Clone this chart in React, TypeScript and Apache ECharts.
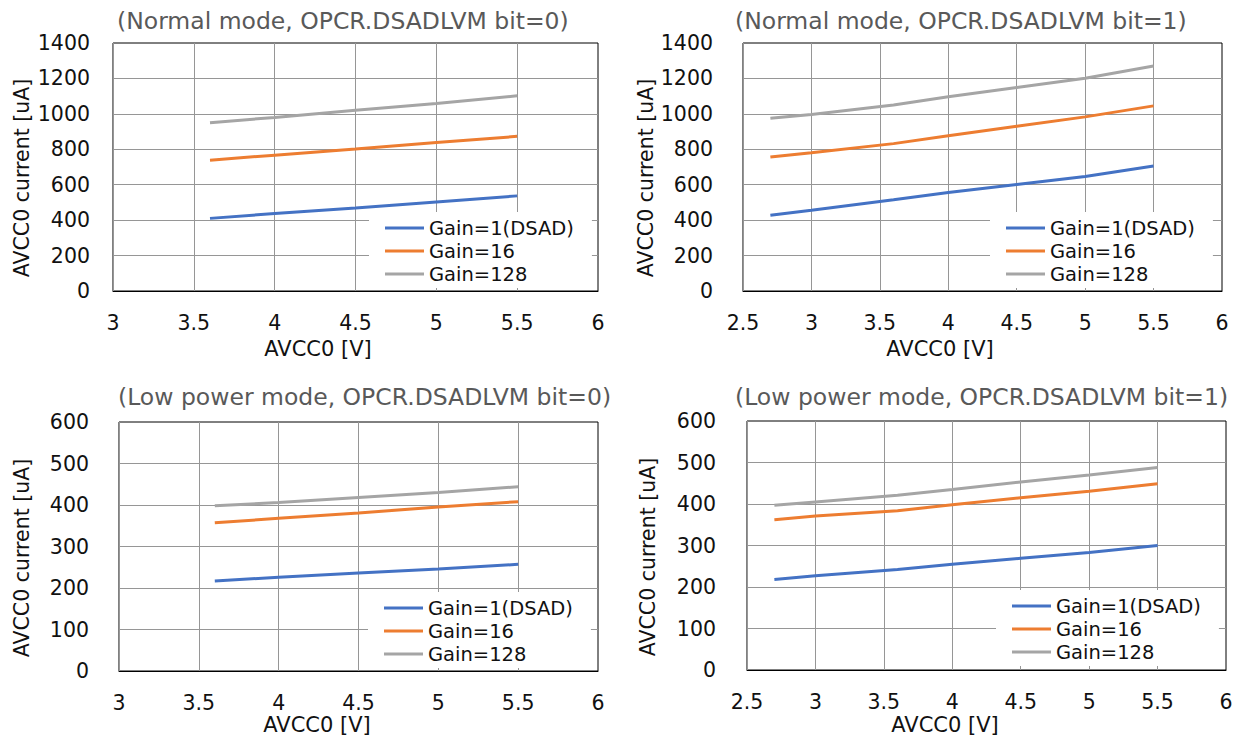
import React, { useEffect, useRef } from "react";
import * as echarts from "echarts";

// ---- data ----
const seriesNames = ["Gain=1(DSAD)", "Gain=16", "Gain=128"];
const lineColors = ["#4472C4", "#ED7D31", "#A5A5A5"];

const voltsA = [3.6, 4.0, 4.5, 5.0, 5.5];
const voltsB = [2.7, 3.0, 3.6, 4.0, 4.5, 5.0, 5.5];

// Normal mode, bit=0 (x = voltsA)
const normalBit0Gain1 = [410, 437, 469, 503, 537];
const normalBit0Gain16 = [738, 767, 802, 838, 873];
const normalBit0Gain128 = [950, 980, 1021, 1058, 1102];

// Normal mode, bit=1 (x = voltsB)
const normalBit1Gain1 = [427, 456, 515, 556, 601, 646, 706];
const normalBit1Gain16 = [756, 781, 832, 876, 930, 983, 1045];
const normalBit1Gain128 = [975, 997, 1050, 1096, 1149, 1201, 1270];

// Low power mode, bit=0 (x = voltsA)
const lowBit0Gain1 = [217, 226, 236, 246, 257];
const lowBit0Gain16 = [357, 368, 381, 395, 408];
const lowBit0Gain128 = [398, 406, 418, 430, 444];

// Low power mode, bit=1 (x = voltsB)
const lowBit1Gain1 = [218, 227, 242, 255, 269, 283, 300];
const lowBit1Gain16 = [362, 371, 384, 398, 415, 431, 449];
const lowBit1Gain128 = [397, 405, 421, 435, 453, 470, 488];

const titles = [
  "(Normal mode, OPCR.DSADLVM bit=0)",
  "(Normal mode, OPCR.DSADLVM bit=1)",
  "(Low power mode, OPCR.DSADLVM bit=0)",
  "(Low power mode, OPCR.DSADLVM bit=1)",
];
const xAxisName = "AVCC0 [V]";
const yAxisName = "AVCC0 current [uA]";

const FONT = "'DejaVu Sans', Verdana, sans-serif";

const panels = [
  {
    volts: voltsA, values: [normalBit0Gain1, normalBit0Gain16, normalBit0Gain128],
    xMin: 3, xMax: 6, yMax: 1400, yInt: 200,
    grid: { left: 113, top: 43, width: 485, height: 248 }, yLabelMargin: 23,
    title: { x: 117, y: 21 }, xName: { x: 318, y: 349 }, yName: { x: 22, y: 178 },
    legend: { left: 369, top: 212 },
  },
  {
    volts: voltsB, values: [normalBit1Gain1, normalBit1Gain16, normalBit1Gain128],
    xMin: 2.5, xMax: 6, yMax: 1400, yInt: 200,
    grid: { left: 743, top: 43, width: 479, height: 248 }, yLabelMargin: 30,
    title: { x: 735, y: 21 }, xName: { x: 940, y: 349 }, yName: { x: 646, y: 178 },
    legend: { left: 990, top: 212 },
  },
  {
    volts: voltsA, values: [lowBit0Gain1, lowBit0Gain16, lowBit0Gain128],
    xMin: 3, xMax: 6, yMax: 600, yInt: 100,
    grid: { left: 119, top: 422, width: 479, height: 249 }, yLabelMargin: 30,
    title: { x: 118, y: 397 }, xName: { x: 317, y: 725 }, yName: { x: 22, y: 558 },
    legend: { left: 368, top: 592 },
  },
  {
    volts: voltsB, values: [lowBit1Gain1, lowBit1Gain16, lowBit1Gain128],
    xMin: 2.5, xMax: 6, yMax: 600, yInt: 100,
    grid: { left: 747, top: 421, width: 479, height: 249 }, yLabelMargin: 31,
    title: { x: 735, y: 397 }, xName: { x: 945, y: 725 }, yName: { x: 648, y: 557 },
    legend: { left: 996, top: 590 },
  },
];

function buildOption() {
  const grid: any[] = [];
  const xAxis: any[] = [];
  const yAxis: any[] = [];
  const series: any[] = [];
  const legend: any[] = [];
  const graphic: any[] = [];

  panels.forEach((p, i) => {
    grid.push({
      ...p.grid,
      containLabel: false,
      show: true,
      borderColor: "#000",
      borderWidth: 1,
      backgroundColor: "transparent",
    });
    xAxis.push({
      type: "value",
      gridIndex: i,
      min: p.xMin,
      max: p.xMax,
      interval: 0.5,
      axisLine: { show: true, onZero: false, lineStyle: { color: "#000", width: 1 } },
      axisTick: { show: false },
      axisLabel: {
        margin: 21,
        fontSize: 20.5,
        fontFamily: FONT,
        color: "#111",
        formatter: (v: number) => String(v),
      },
      splitLine: { show: true, showMaxLine: false, lineStyle: { color: "#969696", width: 1 } },
    });
    yAxis.push({
      type: "value",
      gridIndex: i,
      min: 0,
      max: p.yMax,
      interval: p.yInt,
      axisLine: { show: false },
      axisTick: { show: false },
      axisLabel: {
        margin: p.yLabelMargin,
        fontSize: 20.5,
        fontFamily: FONT,
        color: "#111",
        formatter: (v: number) => String(v),
      },
      splitLine: { show: true, showMaxLine: false, showMinLine: false, lineStyle: { color: "#969696", width: 1 } },
    });
    seriesNames.forEach((name, k) => {
      series.push({
        type: "line",
        name,
        xAxisIndex: i,
        yAxisIndex: i,
        data: p.volts.map((v, j) => [v, p.values[k][j]]),
        symbol: "none",
        showSymbol: false,
        smooth: false,
        color: lineColors[k],
        lineStyle: { color: lineColors[k], width: 3 },
        z: 3,
      });
    });
    legend.push({
      orient: "vertical",
      left: p.legend.left,
      top: p.legend.top,
      data: seriesNames.map((n) => ({ name: n, icon: "rect" })),
      backgroundColor: "#fff",
      padding: [6, 18, 4, 16],
      itemWidth: 39,
      itemHeight: 3,
      itemGap: 3,
      selectedMode: false,
      textStyle: { fontSize: 19.5, fontFamily: FONT, color: "#111", lineHeight: 20 },
      z: 5,
    });
    graphic.push({
      type: "text",
      x: p.title.x,
      y: p.title.y,
      style: { text: titles[i], fontSize: 23.5, fontFamily: FONT, fill: "#595959", align: "left", verticalAlign: "middle" },
    });
    graphic.push({
      type: "text",
      x: p.xName.x,
      y: p.xName.y,
      style: { text: xAxisName, fontSize: 21, fontFamily: FONT, fill: "#111", align: "center", verticalAlign: "middle" },
    });
    graphic.push({
      type: "text",
      x: p.yName.x,
      y: p.yName.y,
      rotation: Math.PI / 2,
      style: { text: yAxisName, fontSize: 20.5, fontFamily: FONT, fill: "#111", align: "center", verticalAlign: "middle" },
    });
  });

  return {
    animation: false,
    backgroundColor: "#fff",
    grid,
    xAxis,
    yAxis,
    series,
    legend,
    graphic,
  };
}

export default function App() {
  const ref = useRef<HTMLDivElement>(null);
  useEffect(() => {
    if (!ref.current) return;
    const chart = echarts.init(ref.current, undefined, { renderer: "svg" });
    chart.setOption(buildOption() as any);
    return () => chart.dispose();
  }, []);
  return (
    <div
      ref={ref}
      style={{ position: "absolute", left: 0, top: 0, width: 1243, height: 739, background: "#fff" }}
    />
  );
}
